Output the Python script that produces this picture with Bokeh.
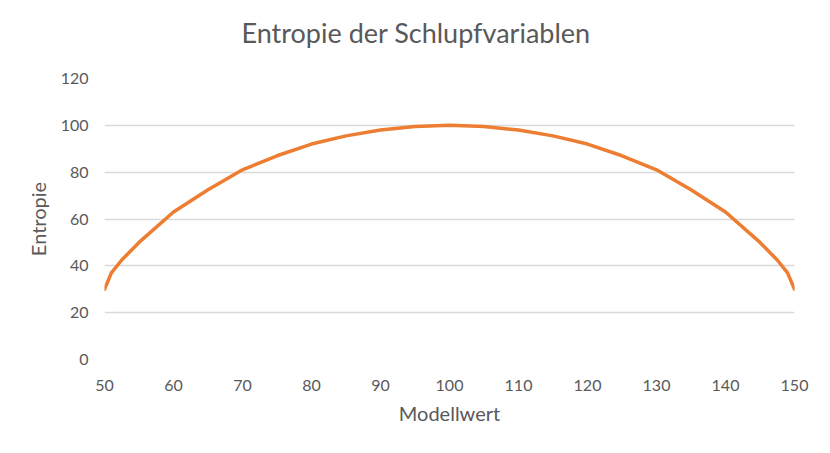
from bokeh.plotting import figure
from bokeh.models import Range1d, FixedTicker, Title
from bokeh.embed import file_html
from bokeh.resources import INLINE

title_text = "Entropie der Schlupfvariablen"
x_label = "Modellwert"
y_label = "Entropie"

modellwert = [50, 51, 52.5, 55, 60, 65, 70, 75, 80, 85, 90, 95, 100,
              105, 110, 115, 120, 125, 130, 135, 140, 145, 147.5, 149, 150]
entropie = [30, 37, 42.5, 50, 63, 72.5, 81, 87, 92, 95.5, 98, 99.5, 100,
            99.5, 98, 95.5, 92, 87, 81, 72.5, 63, 50, 42.5, 37, 30]

x_ticks = [50, 60, 70, 80, 90, 100, 110, 120, 130, 140, 150]
y_ticks = [0, 20, 40, 60, 80, 100, 120]

FONT = "Lato"
TXT = "#595959"

p = figure(width=814, height=437, output_backend="svg", toolbar_location=None,
           x_range=Range1d(50, 150), y_range=Range1d(0, 120),
           min_border_left=104, min_border_right=20, min_border_top=78,
           min_border_bottom=78)
p.outline_line_color = None
p.background_fill_color = "white"
p.border_fill_color = "white"

p.line(modellwert, entropie, line_color="#ED7D31", line_width=3.5,
       line_join="round", line_cap="round")

p.xgrid.grid_line_color = None
p.ygrid.grid_line_color = "#d9d9d9"
p.ygrid.grid_line_width = 1.3
p.ygrid.ticker = FixedTicker(ticks=y_ticks)

for ax in (p.xaxis[0], p.yaxis[0]):
    ax.axis_line_color = None
    ax.major_tick_line_color = None
    ax.minor_tick_line_color = None
    ax.major_tick_out = 0
    ax.major_tick_in = 0
    ax.minor_tick_out = 0
    ax.minor_tick_in = 0
    ax.major_label_text_font = FONT
    ax.major_label_text_font_size = "16px"
    ax.major_label_text_color = TXT
    ax.axis_label_text_font = FONT
    ax.axis_label_text_font_size = "20px"
    ax.axis_label_text_font_style = "normal"
    ax.axis_label_text_color = TXT

p.xaxis[0].ticker = FixedTicker(ticks=x_ticks)
p.yaxis[0].ticker = FixedTicker(ticks=y_ticks)
p.xaxis[0].axis_label = x_label
p.yaxis[0].axis_label = y_label
p.xaxis[0].major_label_standoff = 20
p.yaxis[0].major_label_standoff = 16
p.xaxis[0].axis_label_standoff = 7
p.yaxis[0].axis_label_standoff = 8

spacer = Title(text=" ", text_font_size="1px", standoff=11)
p.add_layout(spacer, "above")
t = Title(text=title_text, align="left", offset=137, standoff=28,
          vertical_align="top",
          text_font=FONT, text_font_size="27px", text_color=TXT,
          text_font_style="normal")
p.add_layout(t, "above")

open("out.html", "w").write(file_html(p, INLINE))
